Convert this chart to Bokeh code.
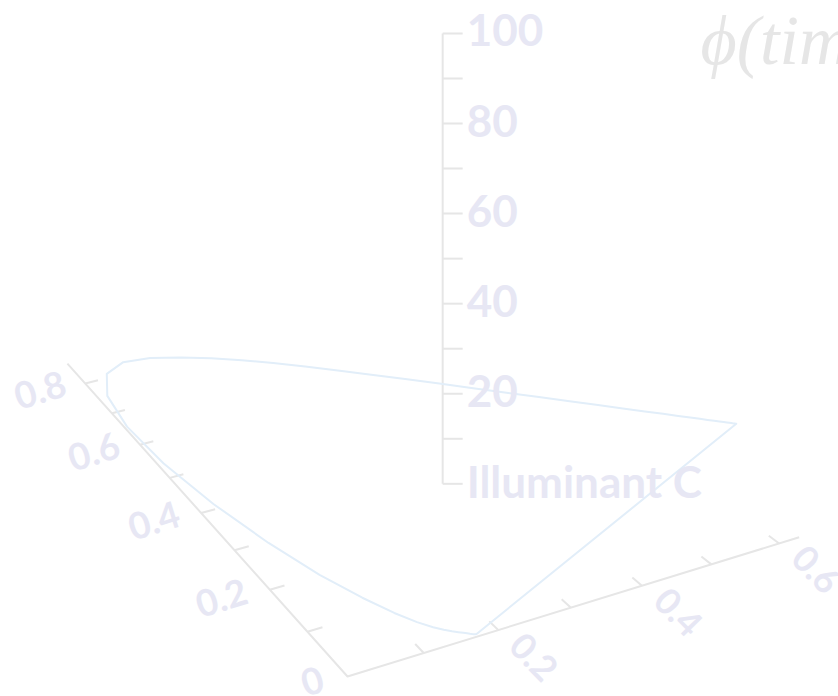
import numpy as np
from bokeh.plotting import figure
from bokeh.models import Range1d
from bokeh.embed import file_html
from bokeh.resources import INLINE
from bokeh.core.properties import value

# CIE 1931 2-degree spectral locus, 380-700 nm, 5 nm steps
wavelength = list(range(380, 705, 5))
locus_x = [0.1741, 0.1740, 0.1738, 0.1736, 0.1733, 0.1730, 0.1726, 0.1721, 0.1714, 0.1703,
           0.1689, 0.1669, 0.1644, 0.1611, 0.1566, 0.1510, 0.1440, 0.1355, 0.1241, 0.1096,
           0.0913, 0.0687, 0.0454, 0.0235, 0.0082, 0.0039, 0.0139, 0.0389, 0.0743, 0.1142,
           0.1547, 0.1929, 0.2296, 0.2658, 0.3016, 0.3373, 0.3731, 0.4087, 0.4441, 0.4788,
           0.5125, 0.5448, 0.5752, 0.6029, 0.6270, 0.6482, 0.6658, 0.6801, 0.6915, 0.7006,
           0.7079, 0.7140, 0.7190, 0.7230, 0.7260, 0.7283, 0.7300, 0.7311, 0.7320, 0.7327,
           0.7334, 0.7340, 0.7344, 0.7346, 0.7347]
locus_y = [0.0050, 0.0050, 0.0049, 0.0049, 0.0048, 0.0048, 0.0048, 0.0048, 0.0051, 0.0058,
           0.0069, 0.0086, 0.0109, 0.0138, 0.0177, 0.0227, 0.0297, 0.0399, 0.0578, 0.0868,
           0.1327, 0.2007, 0.2950, 0.4127, 0.5384, 0.6548, 0.7502, 0.8120, 0.8338, 0.8262,
           0.8059, 0.7816, 0.7543, 0.7243, 0.6923, 0.6589, 0.6245, 0.5896, 0.5547, 0.5202,
           0.4866, 0.4544, 0.4242, 0.3965, 0.3725, 0.3514, 0.3340, 0.3197, 0.3083, 0.2993,
           0.2920, 0.2859, 0.2809, 0.2770, 0.2740, 0.2717, 0.2700, 0.2689, 0.2680, 0.2673,
           0.2666, 0.2660, 0.2656, 0.2654, 0.2653]
illuminant_c = [0.3101, 0.3162]

x_ticks = [0.1, 0.2, 0.3, 0.4, 0.5, 0.6]
x_label_vals = [0.2, 0.4, 0.6]
x_label_text = ["0.2", "0.4", "0.6"]
y_ticks = [0.1, 0.2, 0.3, 0.4, 0.5, 0.6, 0.7, 0.8]
y_label_vals = [0.0, 0.2, 0.4, 0.6, 0.8]
y_label_text = ["0", "0.2", "0.4", "0.6", "0.8"]
z_ticks = [0, 10, 20, 30, 40, 50, 60, 70, 80, 90, 100]
z_label_vals = [0, 20, 40, 60, 80, 100]
z_label_text = ["Illuminant C", "20", "40", "60", "80", "100"]
x_axis_end = 0.63
y_axis_end = 0.87
z_axis_end = 100
title_text = "ϕ(time)"

# perspective camera (floor plane homography + vertical z)
A, B, C0 = 815.0, -300.0, 347.0
D, E, F0 = -155.0, -240.6, 676.0
G, H = 0.1228, 0.328
Q = -5.142


def proj(x, y, z=0.0):
    x = np.asarray(x, dtype=float)
    y = np.asarray(y, dtype=float)
    z = np.asarray(z, dtype=float)
    w = 1 + G * x + H * y
    return (A * x + B * y + C0) / w, (D * x + E * y + F0 + Q * z) / w


AXIS = "#e6e6e6"
LOCUS = "#e2eef9"
LABEL = "#e7e7f4"

W, HH = 838, 696
p = figure(width=W, height=HH, x_range=Range1d(0, W), y_range=Range1d(HH, 0),
           output_backend="svg", toolbar_location=None, min_border=0)
p.axis.visible = False
p.grid.visible = False
p.outline_line_color = None
p.background_fill_color = "white"
p.border_fill_color = "white"

# axes
ox, oy = proj(0, 0)
xe, ye = proj(x_axis_end, 0)
yx, yy = proj(0, y_axis_end)
p.line([float(yx), float(ox), float(xe)], [float(yy), float(oy), float(ye)],
       line_color=AXIS, line_width=2, line_join="round")

xt0, yt0 = proj(x_ticks, [0] * len(x_ticks))
xt1, yt1 = proj(x_ticks, [0.02] * len(x_ticks))
p.segment(xt0, yt0, xt1, yt1, line_color=AXIS, line_width=2)

yt0x, yt0y = proj([0] * len(y_ticks), y_ticks)
yt1x, yt1y = proj([0.02] * len(y_ticks), y_ticks)
p.segment(yt0x, yt0y, yt1x, yt1y, line_color=AXIS, line_width=2)

cx, cy0 = proj(illuminant_c[0], illuminant_c[1], 0)
_, cy1 = proj(illuminant_c[0], illuminant_c[1], z_axis_end)
p.line([float(cx), float(cx)], [float(cy0), float(cy1)], line_color=AXIS, line_width=2)
zx, zy = proj([illuminant_c[0]] * len(z_ticks), [illuminant_c[1]] * len(z_ticks), z_ticks)
p.segment(zx, zy, zx + 20, zy, line_color=AXIS, line_width=2)

# spectral locus closed with the line of purples
lx = locus_x + [locus_x[0]]
ly = locus_y + [locus_y[0]]
px, py = proj(lx, ly)
p.line(px, py, line_color=LOCUS, line_width=2, line_join="round")

# tick labels
lxx, lxy = proj(x_label_vals, [-0.02] * len(x_label_vals))
p.text(lxx + 9, lxy, text=x_label_text, text_font=value("Lato"), text_font_style="bold",
       text_font_size="36px", text_color=LABEL, text_align="left",
       text_baseline="middle", angle=-0.8)

lyx, lyy = proj([-0.032] * len(y_label_vals), y_label_vals)
p.text(lyx, lyy - 6, text=y_label_text, text_font=value("Lato"), text_font_style="bold",
       text_font_size="37px", text_color=LABEL, text_align="right",
       text_baseline="middle", angle=0.3)

lzx, lzy = proj([illuminant_c[0]] * len(z_label_vals), [illuminant_c[1]] * len(z_label_vals),
                z_label_vals)
p.text(lzx + 24, lzy - 3, text=z_label_text, text_font=value("Lato"), text_font_style="bold",
       text_font_size="44px", text_color=LABEL, text_align="left", text_baseline="middle")

# title
p.text([700], [40], text=[title_text], text_font=value("Liberation Serif"),
       text_font_style="italic", text_font_size="70px", text_color="#e6e6e6",
       text_align="left", text_baseline="middle")

open("out.html", "w").write(file_html(p, INLINE))
